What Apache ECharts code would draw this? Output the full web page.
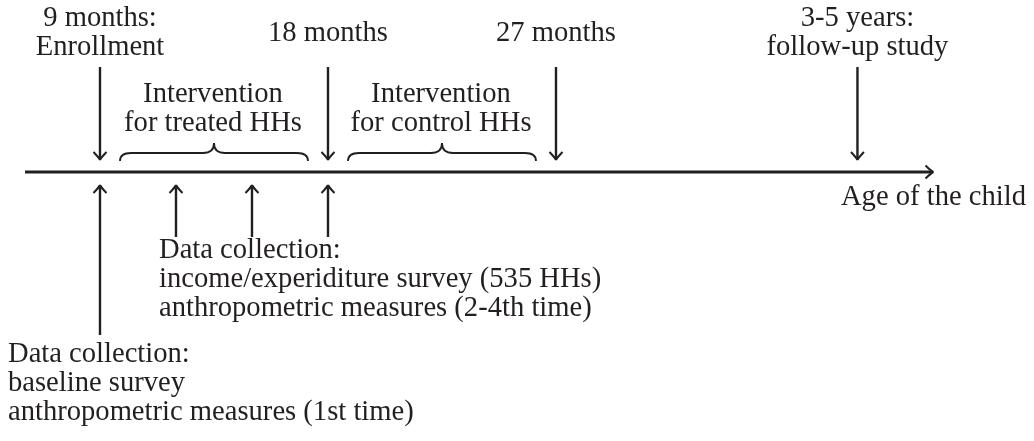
<!DOCTYPE html>
<html>
<head>
<meta charset="utf-8">
<script src="https://cdn.jsdelivr.net/npm/echarts@6/dist/echarts.min.js"></script>
<style>
  html, body { margin: 0; padding: 0; background: #fff; }
  #chart { width: 1034px; height: 441px; }
</style>
</head>
<body>
<div id="chart"></div>
<script>
// timeline positions, in months of age (the follow-up is drawn off scale)
const milestoneMonths = [9, 18, 27, 38.9];
const milestoneLabels = ['9 months:\nEnrollment', '18 months', '27 months', '3-5 years:\nfollow-up study'];
const collectionMonths = [9, 12, 15, 18];
const collectionRound = ['baseline', 'follow', 'follow', 'follow'];
const interventionSpans = [[9, 18], [18, 27]];
const interventionLabels = ['Intervention\nfor treated HHs', 'Intervention\nfor control HHs'];
const timelineRange = [6.04, 41.9];
const timelineLabel = 'Age of the child';
const notes = {
    baseline: 'Data collection:\nbaseline survey\nanthropometric measures (1st time)',
    follow: 'Data collection:\nincome/experiditure survey (535 HHs)\nanthropometric measures (2-4th time)'
};

// drawing layout (pixels)
const INK = '#231f20';
const FONT = '"Liberation Serif", "DejaVu Serif", serif';
const FS = 28.6;
const LH = 29;
const AXIS_Y = 172;

const chart = echarts.init(document.getElementById('chart'));

function tip(x, y, dx, dy) {
    // curved latex-like arrow tip, (dx,dy) is the pointing direction
    const nx = -dy, ny = dx;
    const barb = s => ({
        type: 'bezierCurve',
        shape: {
            x1: x - 8 * dx + s * 6.5 * nx, y1: y - 8 * dy + s * 6.5 * ny,
            cpx1: x - 2.5 * dx + s * 1.2 * nx, cpy1: y - 2.5 * dy + s * 1.2 * ny,
            x2: x, y2: y
        },
        style: {stroke: INK, lineWidth: 2, fill: null}
    });
    return [barb(1), barb(-1)];
}

function vArrow(x, yFrom, yTo) {
    const dir = yTo > yFrom ? 1 : -1;
    return [{
        type: 'line',
        shape: {x1: x, y1: yFrom, x2: x, y2: yTo - dir * 1},
        style: {stroke: INK, lineWidth: 2.4}
    }].concat(tip(x, yTo, 0, dir));
}

function label(text, x, y, align) {
    return {
        type: 'text',
        style: {
            text: text, x: x, y: y,
            fill: INK, fontFamily: FONT, fontSize: FS, lineHeight: LH,
            align: align || 'center', verticalAlign: 'middle'
        }
    };
}

const option = {
    animation: false,
    backgroundColor: '#fff',
    grid: {left: 0, right: 0, top: 0, bottom: 0},
    xAxis: {type: 'value', min: 5.053, max: 45.869, show: false},
    yAxis: {type: 'value', min: 0, max: 441, inverse: true, show: false},
    series: [
        {
            // the time axis
            type: 'custom',
            data: [timelineRange],
            renderItem: (params, api) => {
                const a = api.coord([api.value(0), AXIS_Y]);
                const b = api.coord([api.value(1), AXIS_Y]);
                return {
                    type: 'group',
                    children: [{
                        type: 'line',
                        shape: {x1: a[0], y1: a[1], x2: b[0] - 1, y2: b[1]},
                        style: {stroke: INK, lineWidth: 2.8}
                    }].concat(tip(b[0], b[1], 1, 0), [label(timelineLabel, b[0], 197)])
                };
            }
        },
        {
            // milestones above the axis
            type: 'custom',
            data: milestoneMonths.map(m => [m]),
            renderItem: (params, api) => {
                const p = api.coord([api.value(0), AXIS_Y]);
                return {
                    type: 'group',
                    children: vArrow(p[0], 67, 160).concat([label(milestoneLabels[params.dataIndex], p[0], 33)])
                };
            }
        },
        {
            // intervention braces
            type: 'custom',
            data: interventionSpans,
            renderItem: (params, api) => {
                const x0 = api.coord([api.value(0), AXIS_Y])[0] + 20;
                const x1 = api.coord([api.value(1), AXIS_Y])[0] - 20;
                const xm = (x0 + x1) / 2;
                const yb = 161, ym = 153, yt = 143, r = 11;
                const st = {stroke: INK, lineWidth: 1.8, fill: null};
                const q = (ax, ay, cx, cy, bx, by) => ({
                    type: 'bezierCurve',
                    shape: {x1: ax, y1: ay, cpx1: cx, cpy1: cy, x2: bx, y2: by},
                    style: st
                });
                const ln = (ax, bx) => ({type: 'line', shape: {x1: ax, y1: ym, x2: bx, y2: ym}, style: st});
                return {
                    type: 'group',
                    children: [
                        q(x0, yb, x0, ym, x0 + r, ym),
                        ln(x0 + r, xm - r),
                        q(xm - r, ym, xm, ym, xm, yt),
                        q(xm, yt, xm, ym, xm + r, ym),
                        ln(xm + r, x1 - r),
                        q(x1 - r, ym, x1, ym, x1, yb),
                        label(interventionLabels[params.dataIndex], xm - 1, 109)
                    ]
                };
            }
        },
        {
            // data collection rounds below the axis
            type: 'custom',
            data: collectionMonths.map(m => [m]),
            renderItem: (params, api) => {
                const p = api.coord([api.value(0), AXIS_Y]);
                const bottom = collectionRound[params.dataIndex] === 'baseline' ? 335 : 237;
                return {type: 'group', children: vArrow(p[0], bottom, 185)};
            }
        },
        {
            // notes for each round
            type: 'custom',
            data: [[collectionMonths[0]], [collectionMonths[1]]],
            renderItem: (params, api) => {
                const p = api.coord([api.value(0), AXIS_Y]);
                if (params.dataIndex === 0) {
                    return label(notes.baseline, p[0] - 92, 383, 'left');
                }
                return label(notes.follow, p[0] - 17, 279, 'left');
            }
        }
    ]
};

chart.setOption(option);
</script>
</body>
</html>
